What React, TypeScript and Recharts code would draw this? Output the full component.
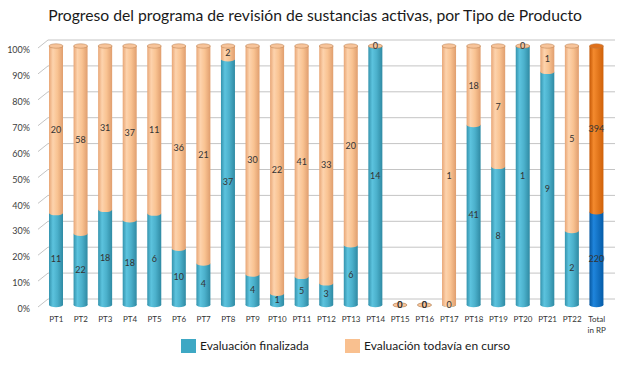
import React from "react";
import { BarChart, Bar, XAxis, YAxis, CartesianGrid, LabelList, Cell } from "recharts";

const categories = [
  "PT1", "PT2", "PT3", "PT4", "PT5", "PT6", "PT7", "PT8", "PT9", "PT10", "PT11", "PT12",
  "PT13", "PT14", "PT15", "PT16", "PT17", "PT18", "PT19", "PT20", "PT21", "PT22", "Total in RP",
];
const finalizada = [11, 22, 18, 18, 6, 10, 4, 37, 4, 1, 5, 3, 6, 14, 0, 0, 0, 41, 8, 1, 9, 2, 220];
const enCurso = [20, 58, 31, 37, 11, 36, 21, 2, 30, 22, 41, 33, 20, 0, 0, 0, 1, 18, 7, 0, 1, 5, 394];
const yTicks = [0, 0.1, 0.2, 0.3, 0.4, 0.5, 0.6, 0.7, 0.8, 0.9, 1];

const data = categories.map((name, i) => ({ name, finalizada: finalizada[i], enCurso: enCurso[i] }));

const FONT = "Lato, 'Open Sans', sans-serif";
const TOTAL = categories.length - 1;

function Cylinder(props: any) {
  const { x, y, width, height, fill, cap, capFill } = props;
  if (x == null || y == null || isNaN(y)) return null;
  const h = Math.max(0, height || 0);
  const cx = x + width / 2;
  const rx = width / 2;
  const ry = 2.2;
  return (
    <g>
      <ellipse cx={cx} cy={y + h} rx={rx} ry={ry} fill={fill} />
      {h > 0 && <rect x={x} y={y} width={width} height={h} fill={fill} />}
      {cap && <ellipse cx={cx} cy={y} rx={rx} ry={ry} fill={capFill} stroke="#b57a4d" strokeWidth={0.5} />}
    </g>
  );
}

// grid lines on the back wall, with the short diagonal of the side wall
function GridLine(props: any) {
  const { x1, x2, y1 } = props;
  return (
    <polyline
      key={props.key ?? y1}
      points={`${x1 - 6},${y1 + 2} ${x1 + 4},${y1 - 6} ${x2 + 6},${y1 - 6}`}
      fill="none"
      stroke="#c4c4c4"
      strokeWidth={1}
    />
  );
}

function XTick(props: any) {
  const { x, y, payload } = props;
  const parts = payload.value === "Total in RP" ? ["Total", "in RP"] : [payload.value];
  return (
    <text x={x} y={y} textAnchor="middle" fontSize={8} fill="#333" fontFamily={FONT}>
      {parts.map((p, i) => (
        <tspan key={p} x={x} dy={i === 0 ? 11 : 11}>{p}</tspan>
      ))}
    </text>
  );
}

export default function App() {
  return (
    <div style={{ position: "relative", width: 630, height: 365, background: "#fff", fontFamily: FONT }}>
      <style>{`body{margin:0}`}</style>
      <div style={{ position: "absolute", top: 6, left: 0, width: 630, textAlign: "center", fontSize: 15.7, color: "#1a1a1a" }}>
        Progreso del programa de revisión de sustancias activas, por Tipo de Producto
      </div>
      <BarChart
        width={630}
        height={365}
        data={data}
        stackOffset="expand"
        margin={{ top: 46, right: 21, bottom: 30, left: 0 }}
        barSize={14}
      >
        <defs>
          <linearGradient id="gBlue" x1="0" x2="1" y1="0" y2="0">
            <stop offset="0%" stopColor="#3493ad" />
            <stop offset="28%" stopColor="#5cc3de" />
            <stop offset="60%" stopColor="#4bb0cb" />
            <stop offset="100%" stopColor="#2f8aa3" />
          </linearGradient>
          <linearGradient id="gOrange" x1="0" x2="1" y1="0" y2="0">
            <stop offset="0%" stopColor="#e8a676" />
            <stop offset="28%" stopColor="#fdd3ad" />
            <stop offset="60%" stopColor="#f9c392" />
            <stop offset="100%" stopColor="#e09e6e" />
          </linearGradient>
          <linearGradient id="gTotalBlue" x1="0" x2="1" y1="0" y2="0">
            <stop offset="0%" stopColor="#0758a0" />
            <stop offset="30%" stopColor="#1f85dc" />
            <stop offset="100%" stopColor="#055ca8" />
          </linearGradient>
          <linearGradient id="gTotalOrange" x1="0" x2="1" y1="0" y2="0">
            <stop offset="0%" stopColor="#c55805" />
            <stop offset="30%" stopColor="#f48a2e" />
            <stop offset="100%" stopColor="#cf6109" />
          </linearGradient>
        </defs>
        <CartesianGrid vertical={false} horizontal={GridLine} />
        <XAxis
          dataKey="name"
          interval={0}
          tickLine={false}
          axisLine={false}
          tick={<XTick />}
          tickSize={0}
          tickMargin={6}
        />
        <YAxis
          width={44}
          domain={[0, 1]}
          ticks={yTicks}
          tickFormatter={(v: number) => `${Math.round(v * 100)}%`}
          tickLine={false}
          axisLine={false}
          tickSize={0}
          tickMargin={14}
          tick={{ fontSize: 9, fill: "#404040", fontFamily: FONT, dy: 4 }}
        />
        <Bar
          dataKey="finalizada"
          stackId="a"
          isAnimationActive={false}
          shape={(p: any) => <Cylinder {...p} />}
        >
          {data.map((d, i) => (
            <Cell key={d.name} fill={i === TOTAL ? "url(#gTotalBlue)" : "url(#gBlue)"} />
          ))}
          <LabelList dataKey="finalizada" position="center" fill="#333" fontSize={9} fontFamily={FONT} />
        </Bar>
        <Bar
          dataKey="enCurso"
          stackId="a"
          isAnimationActive={false}
          shape={(p: any) => (
            <Cylinder {...p} cap capFill={p.index === TOTAL ? "#e0701a" : "#f7c49a"} />
          )}
        >
          {data.map((d, i) => (
            <Cell key={d.name} fill={i === TOTAL ? "url(#gTotalOrange)" : "url(#gOrange)"} />
          ))}
          <LabelList dataKey="enCurso" position="center" fill="#333" fontSize={9} fontFamily={FONT} />
        </Bar>
      </BarChart>
      <div style={{ position: "absolute", top: 339, left: 181, width: 15, height: 14, background: "#3ea8c4" }} />
      <div style={{ position: "absolute", top: 338, left: 200, fontSize: 12, color: "#1a1a1a" }}>Evaluación finalizada</div>
      <div style={{ position: "absolute", top: 339, left: 345, width: 15, height: 14, background: "#f9c08f" }} />
      <div style={{ position: "absolute", top: 338, left: 364, fontSize: 12, color: "#1a1a1a" }}>Evaluación todavía en curso</div>
    </div>
  );
}
